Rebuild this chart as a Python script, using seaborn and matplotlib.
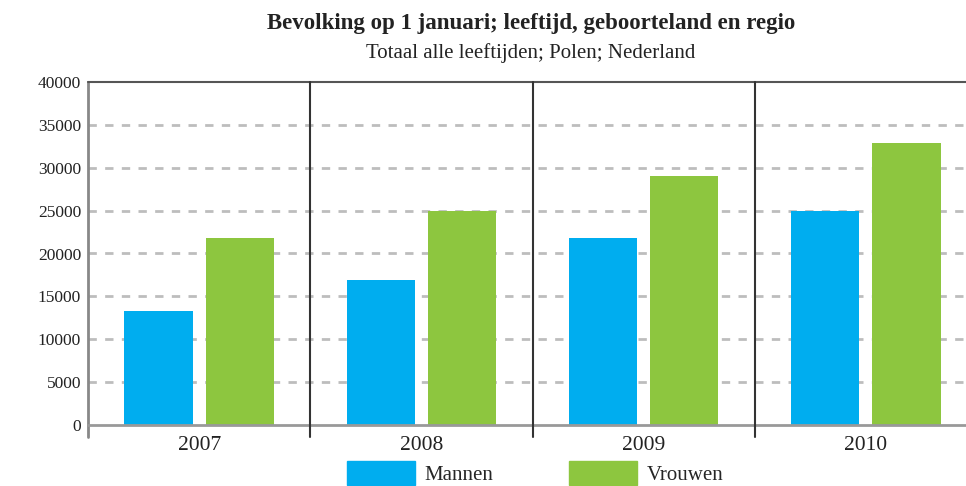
import matplotlib
matplotlib.use("Agg")
import matplotlib.pyplot as plt
import seaborn as sns
import pandas as pd

years = ["2007", "2008", "2009", "2010"]
mannen = [13300, 16900, 21800, 25000]
vrouwen = [21800, 25000, 29000, 32900]
series_names = ["Mannen", "Vrouwen"]
colors = ["#00adef", "#8dc63f"]
yticks = [0, 5000, 10000, 15000, 20000, 25000, 30000, 35000, 40000]
title = "Bevolking op 1 januari; leeftijd, geboorteland en regio"
subtitle = "Totaal alle leeftijden; Polen; Nederland"

df = pd.DataFrame({
    "jaar": years * 2,
    "waarde": mannen + vrouwen,
    "geslacht": [series_names[0]] * len(years) + [series_names[1]] * len(years),
})

sns.set_theme(style="white")
plt.rcParams["font.family"] = ["Liberation Serif", "DejaVu Serif"]

fig = plt.figure(figsize=(9.66, 4.86), dpi=100)
ax = fig.add_axes([88 / 966, 1 - 425 / 486, 1 - 88 / 966, (425 - 82) / 486])

sns.barplot(data=df, x="jaar", y="waarde", hue="geslacht", palette=colors,
            width=0.73, gap=0.16, ax=ax, legend=False, saturation=1,
            linewidth=0, edgecolor="none")

ax.set_xlim(-0.5, 3.45)
ax.set_ylim(0, 40000)
ax.set_yticks(yticks)
ax.set_yticklabels([str(v) for v in yticks], fontsize=12.5, color="#222222")
ax.tick_params(axis="y", length=0, pad=5)
ax.tick_params(axis="x", length=0, pad=8, labelsize=15.5, labelcolor="#222222")
ax.set_xlabel("")
ax.set_ylabel("")

for v in yticks[1:-1]:
    ax.axhline(v, color="#bdbdbd", lw=2, ls=(0, (3, 3)), zorder=0)
ax.axhline(40000, color="#555555", lw=1.5, zorder=3, clip_on=False)

for x in [0.5, 1.5, 2.5]:
    ax.plot([x, x], [-1400, 40000], color="#333333", lw=1.5, clip_on=False, zorder=3)

for s in ["top", "right"]:
    ax.spines[s].set_visible(False)
ax.spines["left"].set_color("#888888")
ax.spines["left"].set_linewidth(2)
ax.spines["bottom"].set_color("#999999")
ax.spines["bottom"].set_linewidth(2)
ax.plot([-0.5, -0.5], [-1400, 0], color="#888888", lw=2, clip_on=False)

fig.text(531 / 966, 1 - 23 / 486, title, ha="center", va="center",
         fontsize=16.5, fontweight="bold", color="#222222")
fig.text(531 / 966, 1 - 53 / 486, subtitle, ha="center", va="center",
         fontsize=15, color="#222222")

handles = [plt.Rectangle((0, 0), 1, 1, color=c) for c in colors]
fig.legend(handles, series_names, loc="upper center",
           bbox_to_anchor=(535 / 966, 1 - 461 / 486), ncol=2, frameon=False,
           fontsize=15, handlelength=3.3, handleheight=1.4,
           handletextpad=0.45, columnspacing=3.6, borderpad=0, borderaxespad=0)

fig.savefig("out.png", dpi=100)
